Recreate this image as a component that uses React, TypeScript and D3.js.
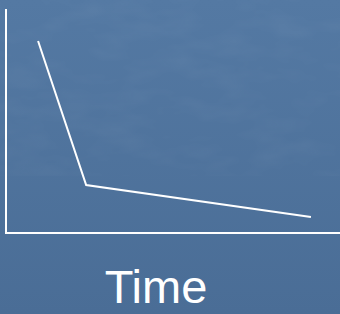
import { useEffect, useRef } from 'react';
import * as d3 from 'd3';

const times = [0.96, 2.4, 9.13];
const values = [8.57, 2.14, 0.71];
const xLabel = 'Time';

const width = 340;
const height = 314;

export default function App() {
  const svgRef = useRef<SVGSVGElement>(null);

  useEffect(() => {
    if (!svgRef.current) return;
    const svg = d3.select(svgRef.current);
    svg.selectAll('*').remove();

    const xScale = d3.scaleLinear().domain([0, 10]).range([6, 340]);
    const yScale = d3.scaleLinear().domain([0, 10]).range([233, 9]);

    // background with a faint cloudy texture
    const defs = svg.append('defs');
    const grad = defs.append('linearGradient')
      .attr('id', 'bg')
      .attr('x1', 0).attr('y1', 0).attr('x2', 0).attr('y2', 1);
    grad.append('stop').attr('offset', '0%').attr('stop-color', '#5479a3');
    grad.append('stop').attr('offset', '100%').attr('stop-color', '#4a6d96');

    const filter = defs.append('filter').attr('id', 'clouds');
    filter.append('feTurbulence')
      .attr('type', 'fractalNoise')
      .attr('baseFrequency', '0.02 0.05')
      .attr('numOctaves', 3)
      .attr('seed', 4);
    filter.append('feColorMatrix')
      .attr('type', 'matrix')
      .attr('values', '0 0 0 0 1  0 0 0 0 1  0 0 0 0 1  0 0 0 0.5 -0.2');

    svg.append('rect').attr('width', width).attr('height', height).attr('fill', 'url(#bg)');
    svg.append('rect')
      .attr('width', width)
      .attr('height', 160)
      .attr('filter', 'url(#clouds)')
      .attr('opacity', 0.15);

    const g = svg.append('g');

    // axes
    g.append('line')
      .attr('x1', xScale(0)).attr('x2', xScale(0))
      .attr('y1', yScale(10)).attr('y2', yScale(0))
      .attr('stroke', '#fff').attr('stroke-width', 2);
    g.append('line')
      .attr('x1', xScale(0) - 1).attr('x2', xScale(10))
      .attr('y1', yScale(0)).attr('y2', yScale(0))
      .attr('stroke', '#fff').attr('stroke-width', 2);

    const line = d3.line<number>()
      .x((d, i) => xScale(times[i]))
      .y((d) => yScale(d));

    g.append('path')
      .datum(values)
      .attr('d', line)
      .attr('fill', 'none')
      .attr('stroke', '#fff')
      .attr('stroke-width', 2);

    g.append('text')
      .text(xLabel)
      .attr('x', 156)
      .attr('y', 303)
      .attr('text-anchor', 'middle')
      .attr('font-family', 'Liberation Sans, Arial, sans-serif')
      .attr('font-size', 47)
      .attr('fill', '#fff');
  }, []);

  return (
    <svg
      ref={svgRef}
      width={width}
      height={height}
      style={{ position: 'fixed', left: 0, top: 0, display: 'block' }}
    />
  );
}
